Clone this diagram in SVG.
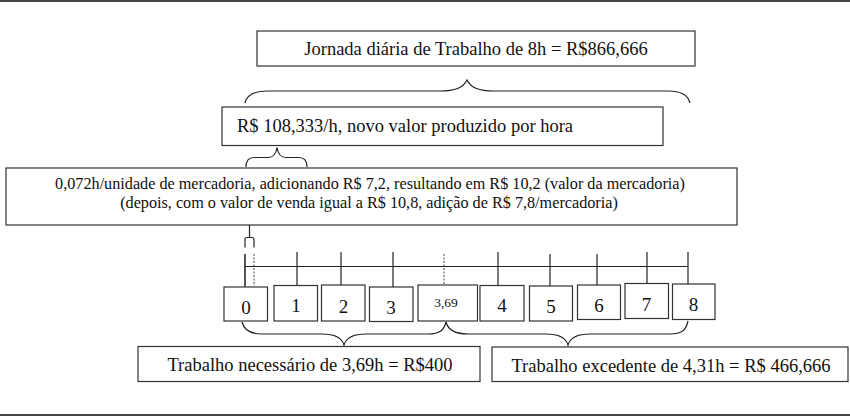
<svg xmlns="http://www.w3.org/2000/svg" width="850" height="417" viewBox="0 0 850 417">
<style>
.box{fill:#fff;stroke:#333;stroke-width:1.2}
.ln{fill:none;stroke:#222;stroke-width:1.2}
.dot{fill:none;stroke:#444;stroke-width:1;stroke-dasharray:2,1.5}
.t{font-family:"Liberation Serif","Times New Roman",serif;font-size:18.5px;fill:#111}
.s{font-family:"Liberation Serif","Times New Roman",serif;font-size:16.2px;fill:#111}
.d{font-family:"Liberation Serif","Times New Roman",serif;font-size:19px;fill:#111;text-anchor:middle}
</style>
<rect x="0" y="0" width="850" height="417" fill="#fff"/>
<line x1="0" y1="1" x2="850" y2="1" stroke="#444" stroke-width="2"/>
<line x1="0" y1="415" x2="850" y2="415" stroke="#444" stroke-width="2"/>

<g id="jornada">
<rect class="box" x="257" y="31" width="438" height="35"/>
<text class="t" x="476" y="55" text-anchor="middle">Jornada diária de Trabalho de 8h = R$866,666</text>
</g>
<g id="valor-hora">
<rect class="box" x="222" y="107" width="441" height="38.5"/>
<text class="t" x="237" y="132">R$ 108,333/h, novo valor produzido por hora</text>
</g>
<g id="mercadoria">
<rect class="box" x="6" y="168" width="731" height="57"/>
<text class="s" x="370" y="189" text-anchor="middle">0,072h/unidade de mercadoria, adicionando R$ 7,2, resultando em R$ 10,2 (valor da mercadoria)</text>
<text class="s" x="369" y="207.5" text-anchor="middle">(depois, com o valor de venda igual a R$ 10,8, adição de R$ 7,8/mercadoria)</text>
</g>
<g id="necessario">
<rect class="box" x="138" y="346.5" width="342" height="35"/>
<text class="t" x="310" y="371" text-anchor="middle">Trabalho necessário de 3,69h = R$400</text>
</g>
<g id="excedente">
<rect class="box" x="492" y="347" width="356" height="34.5"/>
<text class="t" x="671" y="371.5" text-anchor="middle">Trabalho excedente de 4,31h = R$ 466,666</text>
</g>

<g id="h0"><rect class="box" x="224" y="287" width="43.5" height="34"/><text class="d" x="246" y="314">0</text></g>
<g id="h1"><rect class="box" x="274" y="285.5" width="43.5" height="35.5"/><text class="d" x="296" y="312">1</text></g>
<g id="h2"><rect class="box" x="321.5" y="285" width="43.5" height="36"/><text class="d" x="343.5" y="313">2</text></g>
<g id="h3"><rect class="box" x="369.5" y="287" width="43.5" height="34.5"/><text class="d" x="391" y="314">3</text></g>
<g id="h369"><rect class="box" x="418" y="285" width="59.5" height="36"/><text class="d" x="446" y="307" style="font-size:13.5px">3,69</text></g>
<g id="h4"><rect class="box" x="480" y="285.5" width="44" height="35.5"/><text class="d" x="502" y="312">4</text></g>
<g id="h5"><rect class="box" x="529.5" y="286" width="43" height="35"/><text class="d" x="551" y="313">5</text></g>
<g id="h6"><rect class="box" x="577.5" y="285" width="43" height="34.5"/><text class="d" x="599" y="312">6</text></g>
<g id="h7"><rect class="box" x="625" y="283.5" width="43.5" height="35"/><text class="d" x="646.5" y="310.5">7</text></g>
<g id="h8"><rect class="box" x="672.5" y="284" width="42.5" height="35.5"/><text class="d" x="693.5" y="311">8</text></g>

<g id="connectors">
<path class="ln" d="M245,103 C247,94 255,91 268,91 L440,91 C455,91 463,88 467,80 C471,88 479,91 494,91 L668,91 C681,91 688,95 690,103"/>
<path class="ln" d="M246,167 C246,160 249,157.5 254,157.5 L268,157.5 C273,157.5 276,154 277,147.5 C278,154 281,157.5 286,157.5 L299,157.5 C304,157.5 307,160 307,167"/>
<path class="ln" d="M242,322 C244,330 250,334 262,334 L322,334 C336,334 342,338 344,345 C346,338 352,334 366,334 L428,334 C440,334 444,330 446,322"/>
<path class="ln" d="M446,322 C448,330 456,334 468,334 L546,334 C560,334 566,338 568,345 C570,338 576,334 590,334 L670,334 C682,334 686,330 688,321"/>
<line class="ln" x1="249.5" y1="225" x2="249.5" y2="237.5"/>
<path class="ln" d="M245,247.5 L245,239.5 Q245,237.5 247,237.5 L252,237.5 Q254,237.5 254,239.5 L254,247.5"/>
<line x1="245" y1="254" x2="245" y2="287" stroke="#555" stroke-width="2"/>
<line class="dot" x1="254" y1="254" x2="254" y2="286"/>
<line class="ln" x1="245" y1="266.5" x2="688" y2="266.5"/>
<line class="ln" x1="297" y1="252" x2="297" y2="285.5"/>
<line class="ln" x1="341" y1="252" x2="341" y2="285"/>
<line class="ln" x1="393" y1="252" x2="393" y2="287"/>
<line class="dot" x1="444" y1="254" x2="444" y2="285"/>
<line class="ln" x1="498" y1="252" x2="498" y2="285.5"/>
<line class="ln" x1="550" y1="254" x2="550" y2="286"/>
<line class="ln" x1="597" y1="254" x2="597" y2="285"/>
<line class="ln" x1="647" y1="252" x2="647" y2="283.5"/>
<line class="ln" x1="688" y1="252" x2="688" y2="284"/>
</g>
</svg>
